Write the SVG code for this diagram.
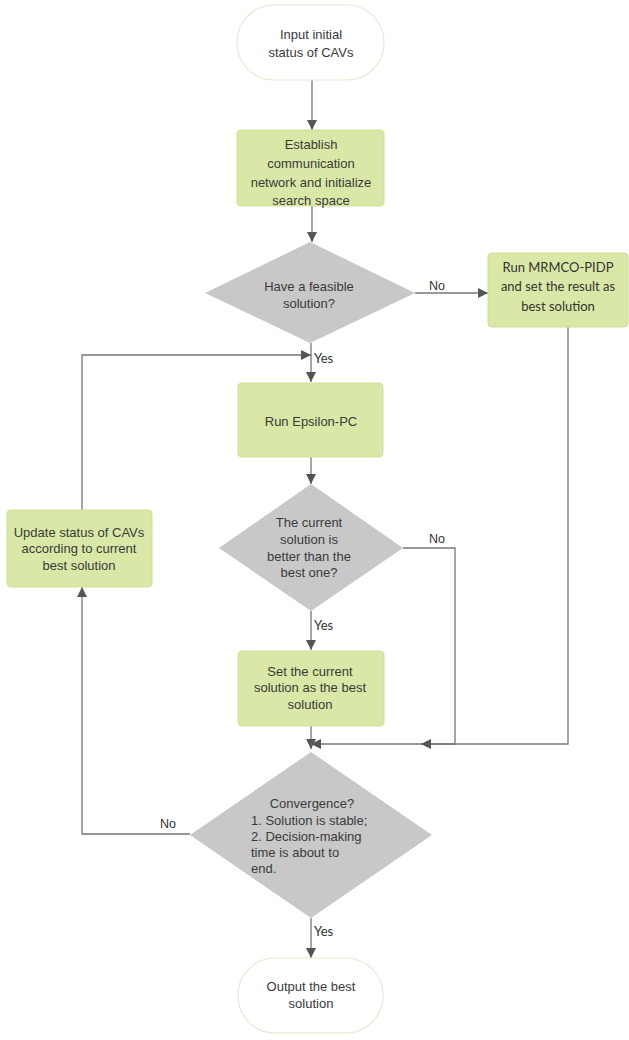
<svg xmlns="http://www.w3.org/2000/svg" width="629" height="1040" viewBox="0 0 629 1040">
<style>
.bg{fill:#ffffff}
.term{fill:#ffffff;stroke:#e3e9cf;stroke-width:1.2}
.box{fill:#d9e8a6;stroke:#cfe09a;stroke-width:1}
.dia{fill:#c8c8c8;stroke:none}
.t{font-family:"Liberation Sans",Arial,sans-serif;font-size:13px;fill:#3a3a3a;text-anchor:middle}
.tl{font-family:"Liberation Sans",Arial,sans-serif;font-size:13px;fill:#3a3a3a}
.c{font-family:Lato,"Liberation Sans",sans-serif;font-size:13px;fill:#333333;text-anchor:middle}
.lbl{font-family:"Liberation Sans",Arial,sans-serif;font-size:12.5px;fill:#333333}
.lblc{font-family:Lato,"Liberation Sans",sans-serif;font-size:13px;fill:#333333}
.ln{fill:none;stroke:#777777;stroke-width:1.3}
</style>
<defs>
<marker id="ah" viewBox="0 0 10 10" refX="10" refY="5" markerWidth="10" markerHeight="10" markerUnits="userSpaceOnUse" orient="auto">
<path d="M0,0 L10,5 L0,10 Z" fill="#555555"/>
</marker>
</defs>
<rect class="bg" x="0" y="0" width="629" height="1040"/>

<g id="connectors">
<line class="ln" x1="312" y1="80" x2="312" y2="130" marker-end="url(#ah)"/>
<line class="ln" x1="312" y1="206" x2="312" y2="242" marker-end="url(#ah)"/>
<line class="ln" x1="415" y1="293" x2="488" y2="293" marker-end="url(#ah)"/>
<line class="ln" x1="311" y1="343" x2="311" y2="382" marker-end="url(#ah)"/>
<line class="ln" x1="311" y1="457" x2="311" y2="484" marker-end="url(#ah)"/>
<line class="ln" x1="311" y1="611" x2="311" y2="650" marker-end="url(#ah)"/>
<line class="ln" x1="311" y1="726" x2="311" y2="749" marker-end="url(#ah)"/>
<polyline class="ln" points="568,327 568,744 311,744" marker-end="url(#ah)"/>
<polyline class="ln" points="403,548 455,548 455,744 421,744" marker-end="url(#ah)"/>
<polyline class="ln" points="190,834 82,834 82,587" marker-end="url(#ah)"/>
<polyline class="ln" points="82,510 82,355 311,355" marker-end="url(#ah)"/>
<line class="ln" x1="311" y1="918" x2="311" y2="958" marker-end="url(#ah)"/>
<text class="lbl" x="429" y="290">No</text>
<text class="lblc" x="314" y="363">Yes</text>
<text class="lbl" x="429" y="543">No</text>
<text class="lblc" x="314" y="630">Yes</text>
<text class="lbl" x="160" y="828">No</text>
<text class="lblc" x="314" y="936">Yes</text>
</g>

<g id="start">
<rect class="term" x="237" y="5" width="147" height="75" rx="37" ry="37"/>
<text class="t" x="311" y="39">Input initial</text>
<text class="t" x="311" y="57">status of CAVs</text>
</g>

<g id="establish">
<rect class="box" x="237" y="130" width="147" height="76" rx="4"/>
<text class="t" x="311" y="149">Establish</text>
<text class="t" x="311" y="168">communication</text>
<text class="t" x="311" y="187">network and initialize</text>
<text class="t" x="311" y="205">search space</text>
</g>

<g id="feasible">
<polygon class="dia" points="310,242 415,293 310,343 205,293"/>
<text class="t" x="309" y="291">Have a feasible</text>
<text class="t" x="309" y="308">solution?</text>
</g>

<g id="mrmco">
<rect class="box" x="488" y="253" width="140" height="74" rx="4"/>
<text class="c" x="558" y="272">Run MRMCO-PIDP</text>
<text class="c" x="558" y="291">and set the result as</text>
<text class="c" x="558" y="311">best solution</text>
</g>

<g id="epsilon">
<rect class="box" x="238" y="383" width="145" height="74" rx="4"/>
<text class="t" x="311" y="426">Run Epsilon-PC</text>
</g>

<g id="better">
<polygon class="dia" points="311,484 403,548 311,611 219,548"/>
<text class="t" x="309" y="527">The current</text>
<text class="t" x="309" y="544">solution is</text>
<text class="t" x="309" y="561">better than the</text>
<text class="t" x="309" y="577">best one?</text>
</g>

<g id="setbest">
<rect class="box" x="238" y="651" width="146" height="75" rx="4"/>
<text class="t" x="310" y="676">Set the current</text>
<text class="t" x="310" y="692">solution as the best</text>
<text class="t" x="310" y="709">solution</text>
</g>

<g id="update">
<rect class="box" x="7" y="510" width="145" height="77" rx="4"/>
<text class="t" x="79" y="537">Update status of CAVs</text>
<text class="t" x="79" y="553">according to current</text>
<text class="t" x="79" y="570">best solution</text>
</g>

<g id="convergence">
<polygon class="dia" points="311,752 432,835 311,918 190,835"/>
<text class="t" x="312" y="808">Convergence?</text>
<text class="tl" x="251" y="825">1. Solution is stable;</text>
<text class="tl" x="251" y="841">2. Decision-making</text>
<text class="tl" x="251" y="857">time is about to</text>
<text class="tl" x="251" y="873">end.</text>
</g>

<g id="output">
<rect class="term" x="238" y="958" width="145" height="75" rx="37" ry="37"/>
<text class="t" x="311" y="991">Output the best</text>
<text class="t" x="311" y="1008">solution</text>
</g>
</svg>
